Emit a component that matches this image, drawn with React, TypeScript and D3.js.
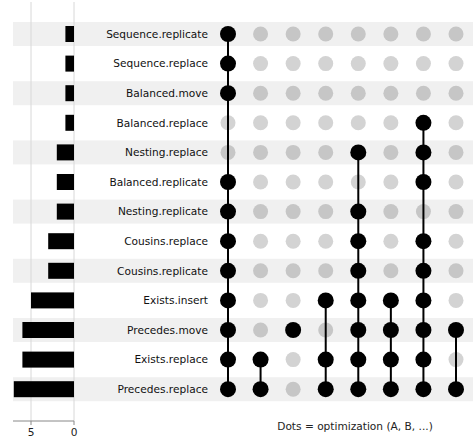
import React from "react";
import * as d3 from "d3";

const sets = [
  "Sequence.replicate",
  "Sequence.replace",
  "Balanced.move",
  "Balanced.replace",
  "Nesting.replace",
  "Balanced.replicate",
  "Nesting.replicate",
  "Cousins.replace",
  "Cousins.replicate",
  "Exists.insert",
  "Precedes.move",
  "Exists.replace",
  "Precedes.replace",
];

const setSizes = [1, 1, 1, 1, 2, 2, 2, 3, 3, 5, 6, 6, 7];

const combinations: string[][] = [
  ["Sequence.replicate", "Sequence.replace", "Balanced.move", "Balanced.replicate", "Nesting.replicate", "Cousins.replace", "Cousins.replicate", "Exists.insert", "Precedes.move", "Exists.replace", "Precedes.replace"],
  ["Exists.replace", "Precedes.replace"],
  ["Precedes.move"],
  ["Exists.insert", "Exists.replace", "Precedes.replace"],
  ["Nesting.replace", "Nesting.replicate", "Cousins.replace", "Cousins.replicate", "Exists.insert", "Precedes.move", "Exists.replace", "Precedes.replace"],
  ["Exists.insert", "Precedes.move", "Exists.replace", "Precedes.replace"],
  ["Balanced.replace", "Nesting.replace", "Balanced.replicate", "Cousins.replace", "Cousins.replicate", "Exists.insert", "Precedes.move", "Exists.replace", "Precedes.replace"],
  ["Precedes.move", "Precedes.replace"],
];

const barTicks = [5, 0];
const footnote = "Dots = optimization (A, B, ...)";

const W = 473;
const H = 443;

export default function App() {
  const y = d3.scaleBand<string>().domain(sets).range([19.2, 404]).padding(0);
  const cx = d3
    .scalePoint<number>()
    .domain(combinations.map((_, i) => i))
    .range([228, 456]);
  const xb = d3.scaleLinear().domain([0, 7]).range([74, 13.8]);
  const rowC = (s: string) => (y(s) as number) + y.bandwidth() / 2;
  const stripeH = 24;
  const font = "DejaVu Sans, sans-serif";
  const axisY = 421;
  const fs = 10.6;

  return (
    <svg
      width={W}
      height={H}
      style={{ position: "absolute", left: 0, top: 0, display: "block", background: "#fff" }}
      fontFamily={font}
    >
      {/* stripes */}
      {sets.map((s, i) =>
        i % 2 === 0 ? (
          <rect key={"st" + s} x={13} y={rowC(s) - stripeH / 2} width={W - 13} height={stripeH} fill="#f0f0f0" />
        ) : null
      )}
      {/* grid lines */}
      {barTicks.map((t) => (
        <line key={"g" + t} x1={xb(t)} x2={xb(t)} y1={2} y2={axisY} stroke="#d8d8d8" strokeWidth={1} />
      ))}
      {/* bars */}
      {sets.map((s, i) => (
        <rect
          key={"b" + s}
          x={xb(setSizes[i])}
          y={rowC(s) - 8}
          width={xb(0) - xb(setSizes[i])}
          height={16}
          fill="#000"
        />
      ))}
      {/* bar axis */}
      <line x1={13} x2={74} y1={axisY} y2={axisY} stroke="#888" strokeWidth={1} />
      {barTicks.map((t) => (
        <g key={"t" + t}>
          <line x1={xb(t)} x2={xb(t)} y1={axisY} y2={axisY + 4} stroke="#888" />
          <text x={xb(t)} y={axisY + 15} textAnchor="middle" fontSize={fs} fill="#222">
            {t}
          </text>
        </g>
      ))}
      {/* labels */}
      {sets.map((s) => (
        <text key={"l" + s} x={208} y={rowC(s)} dy="0.35em" textAnchor="end" fontSize={fs} fill="#111">
          {s}
        </text>
      ))}
      {/* gray dots */}
      {combinations.map((c, j) =>
        sets.map((s, i) =>
          c.includes(s) ? null : (
            <circle
              key={"gd" + j + s}
              cx={cx(j)}
              cy={rowC(s)}
              r={7.5}
              fill={i % 2 === 0 ? "#c6c6c6" : "#d3d3d3"}
            />
          )
        )
      )}
      {/* connecting lines */}
      {combinations.map((c, j) => {
        const ys = c.map(rowC);
        const y0 = d3.min(ys) as number;
        const y1 = d3.max(ys) as number;
        return y1 > y0 ? (
          <line key={"cl" + j} x1={cx(j)} x2={cx(j)} y1={y0} y2={y1} stroke="#000" strokeWidth={2} />
        ) : null;
      })}
      {/* black dots */}
      {combinations.map((c, j) =>
        c.map((s) => <circle key={"bd" + j + s} cx={cx(j)} cy={rowC(s)} r={8} fill="#000" />)
      )}
      <text x={355} y={426} dy="0.35em" textAnchor="middle" fontSize={fs} fill="#222">
        {footnote}
      </text>
    </svg>
  );
}
